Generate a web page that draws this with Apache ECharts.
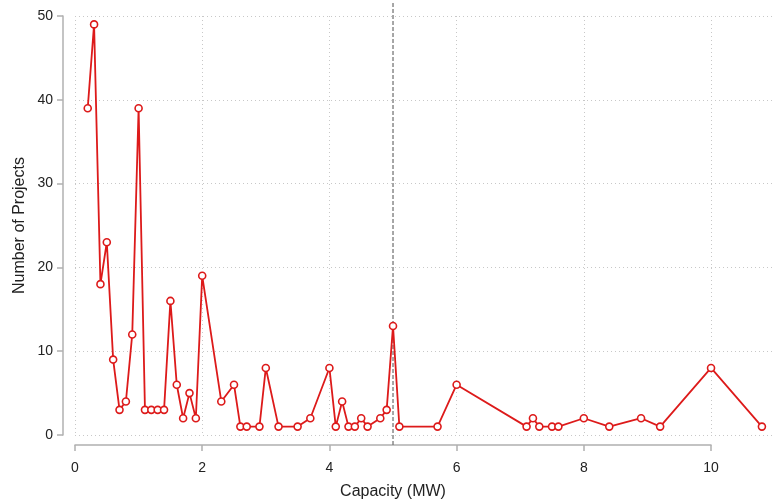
<!DOCTYPE html>
<html><head><meta charset="utf-8">
<script src="https://cdn.jsdelivr.net/npm/echarts@6/dist/echarts.min.js"></script>
<style>html,body{margin:0;padding:0;background:#fff}#c{width:774px;height:502px}</style>
</head><body><div id="c"></div>
<script>
var capacity = [0.2,0.3,0.4,0.5,0.6,0.7,0.8,0.9,1.0,1.1,1.2,1.3,1.4,1.5,1.6,1.7,1.8,1.9,2.0,2.3,2.5,2.6,2.7,2.9,3.0,3.2,3.5,3.7,4.0,4.1,4.2,4.3,4.4,4.5,4.6,4.8,4.9,5.0,5.1,5.7,6.0,7.1,7.2,7.3,7.5,7.6,8.0,8.4,8.9,9.2,10.0,10.8];
var projects = [39,49,18,23,9,3,4,12,39,3,3,3,3,16,6,2,5,2,19,4,6,1,1,1,8,1,1,2,8,1,4,1,1,2,1,2,3,13,1,1,6,1,2,1,1,1,2,1,2,1,8,1];
var xTicks = [0,2,4,6,8,10];
var yTicks = [0,10,20,30,40,50];
var refLine = 5;

var pts = capacity.map(function(x,i){return [x,projects[i]];});
var font = 'Liberation Sans, Arial, sans-serif';
var gb = {containLabel:false, outerBoundsMode:'none'};
function g(o){ return Object.assign({}, gb, o); }
var axisLineStyle = {color:'#b0b0b0', width:1.5};
var chart = echarts.init(document.getElementById('c'));
chart.setOption({
  animation:false,
  grid:[
    g({left:75, top:16, right:0, height:419}),
    g({left:75, top:16, width:636, height:429}),
    g({left:75, top:3, right:0, height:442}),
    g({left:63, top:16, width:10, height:419})
  ],
  xAxis:[
    {gridIndex:0, type:'value', min:0, max:10.99, interval:2,
     axisLine:{show:false}, axisTick:{show:false}, axisLabel:{show:false},
     splitLine:{show:true, lineStyle:{type:[1,3], color:'#c8c8c8', width:1}}},
    {gridIndex:1, type:'value', min:xTicks[0], max:xTicks[xTicks.length-1], interval:2,
     axisLine:{show:true, lineStyle:axisLineStyle},
     axisTick:{show:true, length:6, lineStyle:axisLineStyle},
     axisLabel:{show:true, color:'#222', fontSize:14, fontFamily:font, margin:16},
     splitLine:{show:false},
     name:'Capacity (MW)', nameLocation:'middle', nameGap:39,
     nameTextStyle:{color:'#222', fontSize:16, fontFamily:font}},
    {gridIndex:2, type:'value', min:0, max:10.99, show:false},
    {gridIndex:3, type:'value', min:0, max:1, show:false}
  ],
  yAxis:[
    {gridIndex:0, type:'value', min:yTicks[0], max:yTicks[yTicks.length-1], interval:10,
     axisLine:{show:false}, axisTick:{show:false}, axisLabel:{show:false},
     splitLine:{show:true, lineStyle:{type:[1,3], color:'#c8c8c8', width:1}}},
    {gridIndex:1, type:'value', min:0, max:1, show:false},
    {gridIndex:2, type:'value', min:0, max:1, show:false},
    {gridIndex:3, type:'value', min:yTicks[0], max:yTicks[yTicks.length-1], interval:10,
     axisLine:{show:true, lineStyle:axisLineStyle},
     axisTick:{show:true, length:6, lineStyle:axisLineStyle},
     axisLabel:{show:true, color:'#222', fontSize:14, fontFamily:font, margin:10},
     splitLine:{show:false},
     name:'Number of Projects', nameLocation:'middle', nameGap:35, nameRotate:90,
     nameTextStyle:{color:'#222', fontSize:16, fontFamily:font}}
  ],
  series:[
    {type:'line', xAxisIndex:2, yAxisIndex:2, data:[[refLine,0],[refLine,1]],
     symbol:'none', silent:true, z:1,
     lineStyle:{color:'#777', width:1.3, type:[4,2]}},
    {type:'line', xAxisIndex:0, yAxisIndex:0, data:pts, z:3,
     symbol:'circle', symbolSize:7, showAllSymbol:true,
     itemStyle:{color:'#fff', borderColor:'#dd1a1a', borderWidth:1.6},
     lineStyle:{color:'#dd1a1a', width:1.8}}
  ]
});
</script></body></html>
